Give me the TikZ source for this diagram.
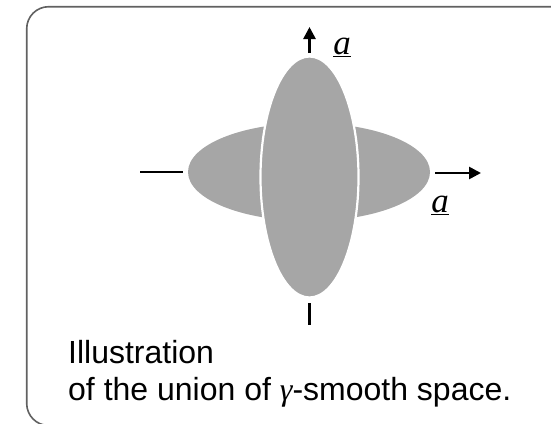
\documentclass[tikz,border=0pt]{standalone}
\usepackage{fontspec}
\setmainfont{Liberation Sans}
\newfontfamily\symserif{Liberation Serif}
\usetikzlibrary{arrows.meta,shapes.geometric}
\begin{document}
\begin{tikzpicture}[x=1pt,y=-1pt,
  blob/.style={fill=black!35, draw=none, ellipse, inner sep=0pt, outer sep=0pt},
  axis/.style={line width=2.6pt, black},
  tip/.style={-{Triangle[length=12pt,width=12pt]}},
  lab/.style={font=\fontsize{35}{38}\symserif\itshape, inner sep=0pt},
  captext/.style={font=\fontsize{32}{36}\selectfont, inner sep=0pt, anchor=base west}]
\useasboundingbox (0,0) rectangle (551,423);
% frame
\draw[line width=1.6pt, black!62, rounded corners=22pt] (26.7,6.7) rectangle (600,425.5);
% horizontal ellipse
\node[blob, minimum width=242pt, minimum height=98pt] (h) at (309,172) {};
% vertical ellipse with white outline
\node[blob, draw=white, line width=2.2pt, minimum width=98pt, minimum height=241pt] (v) at (309.5,177) {};
\coordinate (vtop) at (309.5,53);
\coordinate (vtopend) at (309.5,27);
\coordinate (vbot) at (309.5,303);
\coordinate (vbotend) at (309.5,325);
\coordinate (hleft) at (140,172);
\coordinate (hleftend) at (183,172);
\coordinate (hright) at (435,173);
\coordinate (hrightend) at (481,173);
\draw[axis, tip] (vtop) -- (vtopend);
\draw[axis] (vbot) -- (vbotend);
\draw[axis] (hleft) -- (hleftend);
\draw[axis, tip] (hright) -- (hrightend);
\node[lab] (la1) at (342,47) {\underline{a}};
\node[lab] (la2) at (440,205) {\underline{a}};
\node[captext] (c1) at (68,363) {Illustration};
\node[captext] (c2) at (68,400) {of the union of {\symserif\itshape γ}-smooth space.};
\end{tikzpicture}
\end{document}
